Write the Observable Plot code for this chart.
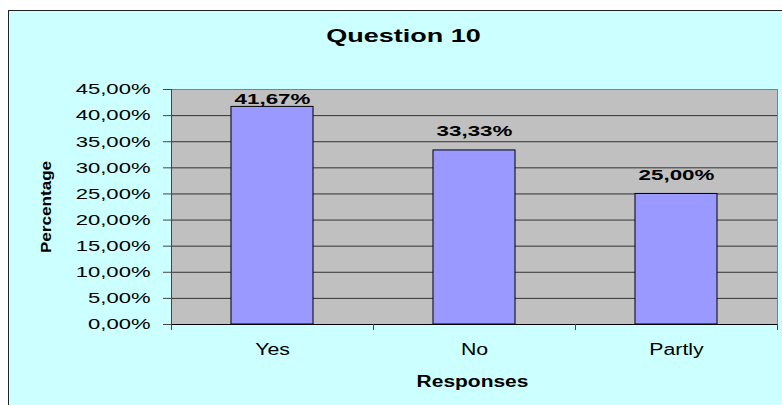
<!DOCTYPE html>
<html>
<head>
<meta charset="utf-8">
<script src="https://cdn.jsdelivr.net/npm/d3@7"></script>
<script src="https://cdn.jsdelivr.net/npm/@observablehq/plot@0.6"></script>
<style>
  html, body { margin: 0; padding: 0; overflow: hidden; width: 782px; height: 405px; background: #ffffff; }
  #frame { position: absolute; left: 8px; top: 10px; width: 774px; height: 395px; border-left: 1px solid #222; border-top: 1px solid #222; background: #CCFFFF; }
  #chart { position: absolute; left: 0; top: 0; }
  #chart svg { font-family: "Liberation Sans", Arial, sans-serif; color: #000; }
</style>
</head>
<body>
<div id="frame"></div>
<div id="chart"></div>
<script>
const title = "Question 10";
const yLabel = "Percentage";
const xLabel = "Responses";
const categories = ["Yes", "No", "Partly"];
const values = [41.67, 33.33, 25.00];
const yTicks = [0, 5, 10, 15, 20, 25, 30, 35, 40, 45];

const fmt = v => v.toFixed(2).replace(".", ",") + "%";
const data = categories.map((c, i) => ({category: c, index: i, value: values[i]}));

const svg = Plot.plot({
  width: 782,
  height: 405,
  marginLeft: 171,
  marginRight: 5,
  marginTop: 89,
  marginBottom: 81,
  style: {background: "transparent", fontFamily: "Liberation Sans, Arial, sans-serif"},
  x: {type: "linear", domain: [0, categories.length]},
  y: {domain: [0, 45]},
  marks: [
    Plot.frame({fill: "#C0C0C0", stroke: "#808080"}),
    Plot.ruleY(yTicks.filter(t => t > 0 && t < 45), {stroke: "#333", strokeWidth: 1}),
    Plot.rectY(data, {
      x1: d => d.index + 0.297,
      x2: d => d.index + 0.703,
      y: "value",
      fill: "#9999FF",
      stroke: "#000",
      strokeWidth: 1
    }),
    Plot.ruleX([0], {stroke: "#444"}),
    Plot.ruleY([0], {stroke: "#000"}),
    Plot.axisY({
      ticks: yTicks, tickFormat: fmt, tickSize: 8, tickPadding: 13,
      fontSize: 15, stroke: "#444", label: null
    }),
    Plot.axisX({
      ticks: d3.range(categories.length + 1), tickFormat: () => "", tickSize: 6,
      stroke: "#444", label: null
    }),
    Plot.axisX({
      ticks: categories.map((c, i) => i + 0.5), tickFormat: d => categories[Math.floor(d)],
      tickSize: 0, tickPadding: 19, fontSize: 16, label: null
    }),
    Plot.text(data, {
      x: d => d.index + 0.5,
      y: d => Math.min(d.value, 39.6),
      dy: -14,
      text: d => fmt(d.value),
      lineAnchor: "bottom",
      fontSize: 15,
      fontWeight: "bold",
      fill: "#000"
    }),
    Plot.text([title], {
      frameAnchor: "top", dx: -71, dy: -53, lineAnchor: "middle", textAnchor: "middle",
      fontSize: 18, fontWeight: "bold", fill: "#000"
    }),
    Plot.text([xLabel], {
      frameAnchor: "bottom", dx: -2, dy: 57, lineAnchor: "middle", textAnchor: "middle",
      fontSize: 16, fontWeight: "bold", fill: "#000"
    }),
    Plot.text([yLabel], {
      frameAnchor: "left", dx: -125, rotate: -90, lineAnchor: "middle", textAnchor: "middle",
      fontSize: 15, fontWeight: "bold", fill: "#000"
    })
  ]
});

document.getElementById("chart").appendChild(svg);

function stretchEl(t, f) {
  if (!t.textContent) return;
  const L = t.getComputedTextLength();
  t.setAttribute("textLength", (L * f).toFixed(1));
  t.setAttribute("lengthAdjust", "spacingAndGlyphs");
}
svg.querySelectorAll('g[aria-label="y-axis tick label"] text').forEach(t => stretchEl(t, 1.47));
svg.querySelectorAll('g[aria-label="x-axis tick label"] text').forEach(t => stretchEl(t, 1.33));
const barLabels = new Set(values.map(fmt));
svg.querySelectorAll('g[aria-label="text"] text').forEach(t => {
  const s = t.textContent;
  if (barLabels.has(s)) stretchEl(t, 1.49);
  else if (s === title) stretchEl(t, 1.5);
  else if (s === xLabel) stretchEl(t, 1.31);
  else if (s === yLabel) stretchEl(t, 1.14);
});
</script>
</body>
</html>
